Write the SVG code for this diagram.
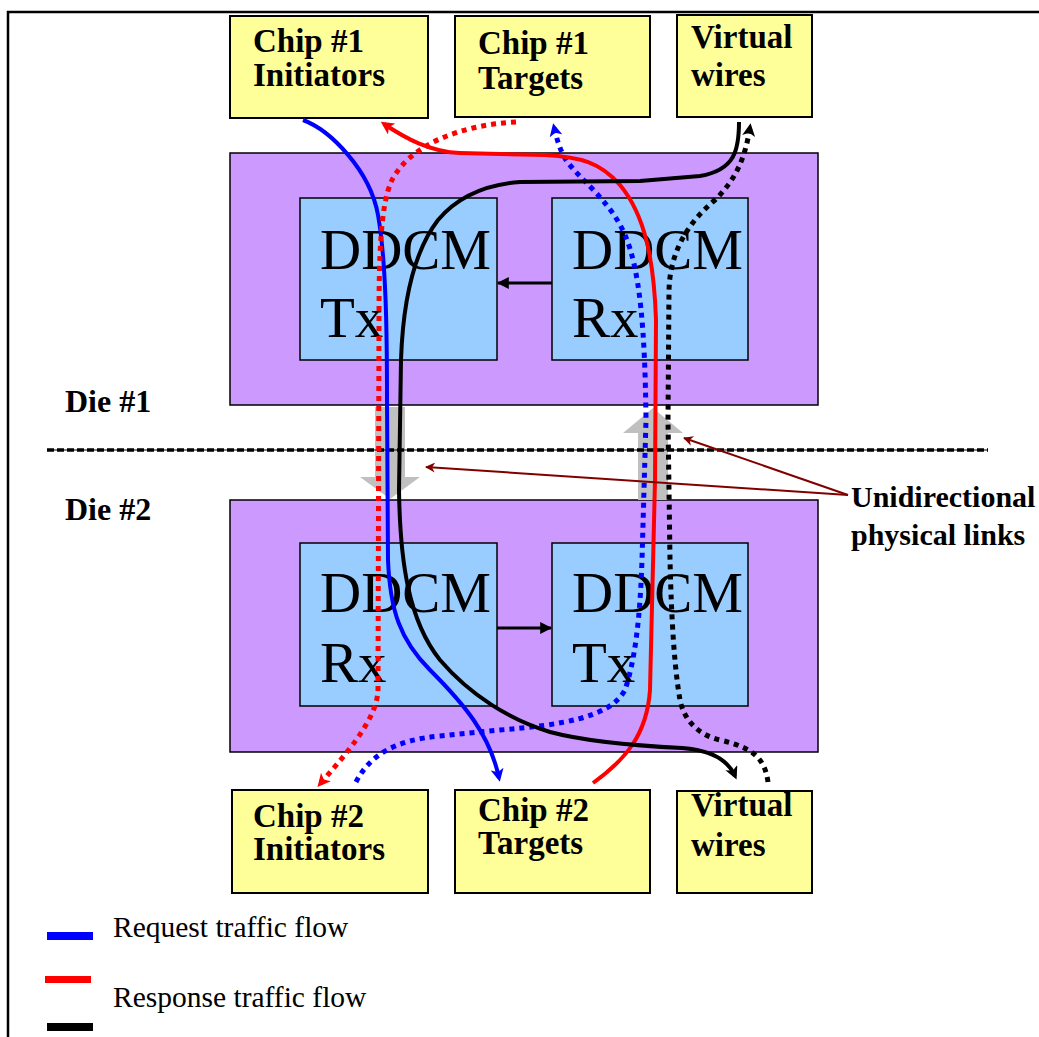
<svg xmlns="http://www.w3.org/2000/svg" width="1039" height="1037" viewBox="0 0 1039 1037">
  <style>
    .chip { fill: #FFFF99; stroke: #000; stroke-width: 2; }
    .die { fill: #CC99FF; stroke: #000; stroke-width: 1.5; }
    .ddcm { fill: #99CCFF; stroke: #000; stroke-width: 1.5; }
    .lbl { font-family: "Liberation Serif", "Times New Roman", serif; font-weight: bold; font-size: 33px; fill: #000; }
    .die-lbl { font-size: 32px; }
    .note-lbl { font-size: 30px; }
    .big { font-family: "Liberation Serif", "Times New Roman", serif; font-size: 57px; fill: #000; }
    .leg { font-family: "Liberation Serif", "Times New Roman", serif; font-size: 29.5px; fill: #000; }
    .flow { fill: none; stroke-width: 4; stroke-linecap: butt; stroke-linejoin: round; }
    .dot { stroke-dasharray: 5 5; stroke-width: 5; }
    .link { fill: #C0C0C0; }
    .note { stroke: #800000; stroke-width: 2; fill: none; }
  </style>
  <defs>
    <marker id="ahBlue" viewBox="0 0 10 10" refX="7" refY="5" markerUnits="userSpaceOnUse" markerWidth="14" markerHeight="13" orient="auto">
      <path d="M0,0 L10,5 L0,10 L2.5,5 z" fill="#0000FF"/>
    </marker>
    <marker id="ahRed" viewBox="0 0 10 10" refX="7" refY="5" markerUnits="userSpaceOnUse" markerWidth="14" markerHeight="13" orient="auto">
      <path d="M0,0 L10,5 L0,10 L2.5,5 z" fill="#FF0000"/>
    </marker>
    <marker id="ahBlack" viewBox="0 0 10 10" refX="7" refY="5" markerUnits="userSpaceOnUse" markerWidth="14" markerHeight="13" orient="auto">
      <path d="M0,0 L10,5 L0,10 L2.5,5 z" fill="#000"/>
    </marker>
    <marker id="ahSmall" viewBox="0 0 10 10" refX="9" refY="5" markerUnits="userSpaceOnUse" markerWidth="12" markerHeight="12" orient="auto">
      <path d="M0,0 L10,5 L0,10 z" fill="#000"/>
    </marker>
    <marker id="ahNote" viewBox="0 0 10 10" refX="9" refY="5" markerUnits="userSpaceOnUse" markerWidth="12" markerHeight="10" orient="auto">
      <path d="M0,0 L10,5 L0,10 L3,5 z" fill="#800000"/>
    </marker>
  </defs>

  <rect width="1039" height="1037" fill="#fff"/>
  <!-- page frame -->
  <path d="M8,1037 V12 H1039" fill="none" stroke="#000" stroke-width="2.5"/>

  <!-- dies -->
  <g id="die1">
    <rect class="die" x="230" y="153" width="588" height="252"/>
    <text class="lbl die-lbl" x="65" y="412">Die #1</text>
  </g>
  <g id="die2">
    <rect class="die" x="230" y="500" width="588" height="252"/>
    <text class="lbl die-lbl" x="65" y="520">Die #2</text>
  </g>

  <!-- DDCM blocks -->
  <g id="ddcm-tx-1">
    <rect class="ddcm" x="300" y="198" width="197" height="162"/>
    <text class="big" x="320" y="269">DDCM</text>
    <text class="big" x="320" y="337">Tx</text>
  </g>
  <g id="ddcm-rx-1">
    <rect class="ddcm" x="552" y="198" width="196" height="162"/>
    <text class="big" x="572" y="269">DDCM</text>
    <text class="big" x="572" y="337">Rx</text>
  </g>
  <g id="ddcm-rx-2">
    <rect class="ddcm" x="300" y="543" width="197" height="163"/>
    <text class="big" x="320" y="612">DDCM</text>
    <text class="big" x="320" y="682">Rx</text>
  </g>
  <g id="ddcm-tx-2">
    <rect class="ddcm" x="552" y="543" width="196" height="163"/>
    <text class="big" x="572" y="612">DDCM</text>
    <text class="big" x="572" y="682">Tx</text>
  </g>

  <!-- chip-level endpoints -->
  <g id="chip1-initiators">
    <rect class="chip" x="230" y="16" width="198" height="102"/>
    <text class="lbl" x="253" y="52">Chip #1</text>
    <text class="lbl" x="253" y="86">Initiators</text>
  </g>
  <g id="chip1-targets">
    <rect class="chip" x="455" y="16" width="195" height="101"/>
    <text class="lbl" x="478" y="54">Chip #1</text>
    <text class="lbl" x="478" y="89">Targets</text>
  </g>
  <g id="vw-top">
    <rect class="chip" x="677" y="15" width="135" height="102"/>
    <text class="lbl" x="691" y="48">Virtual</text>
    <text class="lbl" x="691" y="86">wires</text>
  </g>
  <g id="chip2-initiators">
    <rect class="chip" x="232" y="790" width="196" height="103"/>
    <text class="lbl" x="253" y="827">Chip #2</text>
    <text class="lbl" x="253" y="860">Initiators</text>
  </g>
  <g id="chip2-targets">
    <rect class="chip" x="455" y="790" width="195" height="103"/>
    <text class="lbl" x="478" y="821">Chip #2</text>
    <text class="lbl" x="478" y="854">Targets</text>
  </g>
  <g id="vw-bottom">
    <rect class="chip" x="677" y="791" width="135" height="102"/>
    <text class="lbl" x="691" y="816">Virtual</text>
    <text class="lbl" x="691" y="856">wires</text>
  </g>

  <!-- unidirectional inter-die links -->
  <g id="links">
    <polygon class="link" points="375,407 405,407 405,477 420,477 390,499 360,477 375,477"/>
    <polygon class="link" points="638,500 668,500 668,433 683,433 653,408 623,433 638,433"/>
  </g>

  <!-- die boundary -->
  <g id="boundary">
    <line x1="47" y1="450" x2="988" y2="450" stroke="#000" stroke-width="1"/>
    <line x1="47" y1="450" x2="988" y2="450" stroke="#000" stroke-width="3.5" stroke-dasharray="7 3"/>
  </g>

  <g id="connectors">
    <!-- Tx/Rx internal links -->
    <line x1="552" y1="283" x2="498" y2="283" stroke="#000" stroke-width="3" marker-end="url(#ahSmall)"/>
    <line x1="497" y1="628" x2="551" y2="628" stroke="#000" stroke-width="3" marker-end="url(#ahSmall)"/>

    <!-- request traffic -->
    <path class="flow" stroke="#0000FF" marker-end="url(#ahBlue)"
          d="M303,120 C330,130 370,170 378,215 C386,260 387,330 387,400 L388,560 C390,610 400,640 430,670 C465,705 490,735 499,778"/>
    <path class="flow dot" stroke="#0000FF" marker-end="url(#ahBlue)"
          d="M356,782 C370,755 395,740 440,736 L500,730 C560,725 610,718 625,690 C635,660 640,620 642,560 L646,420 C645,330 640,270 625,235 C610,200 580,180 566,160 C560,150 557,140 554,127"/>

    <!-- response traffic -->
    <path class="flow dot" stroke="#FF0000" marker-end="url(#ahRed)"
          d="M516,122 C460,125 410,145 392,180 C380,205 379,260 379,320 L378,690 C377,720 345,755 320,784"/>
    <path class="flow" stroke="#FF0000" marker-end="url(#ahRed)"
          d="M593,783 C625,760 647,735 650,690 L655,480 L656,320 C654,260 645,215 620,185 C600,162 580,157 545,155 L460,153 C430,152 405,138 384,124"/>

    <!-- virtual wires -->
    <path class="flow dot" stroke="#000" marker-end="url(#ahBlack)"
          d="M768,782 C765,760 755,748 720,740 C698,735 684,720 680,700 C673,660 671,600 670,560 L668,420 L669,290 C670,255 685,225 715,200 C735,180 745,160 750,127"/>
    <path class="flow" stroke="#000" marker-end="url(#ahBlack)"
          d="M739,122 C739,150 735,170 700,176 L640,181 L520,182 C480,185 455,200 438,220 C415,250 403,300 401,360 L399,490 C400,560 408,620 440,660 C470,695 510,720 550,732 C580,740 620,745 682,748 C710,750 728,760 735,776"/>

    <!-- annotation pointers -->
    <line class="note" x1="848" y1="495" x2="426" y2="467" marker-end="url(#ahNote)"/>
    <line class="note" x1="848" y1="495" x2="684" y2="438" marker-end="url(#ahNote)"/>
  </g>

  <g id="annotation">
    <text class="lbl note-lbl" x="851" y="507">Unidirectional</text>
    <text class="lbl note-lbl" x="851" y="545">physical links</text>
  </g>

  <!-- legend -->
  <g id="legend">
    <rect x="47" y="932" width="46" height="8" fill="#0000FF"/>
    <text class="leg" x="113" y="937">Request traffic flow</text>
    <rect x="45" y="976" width="46" height="7" fill="#FF0000"/>
    <text class="leg" x="113" y="1007">Response traffic flow</text>
    <rect x="47" y="1023" width="46" height="8" fill="#000"/>
  </g>
</svg>
